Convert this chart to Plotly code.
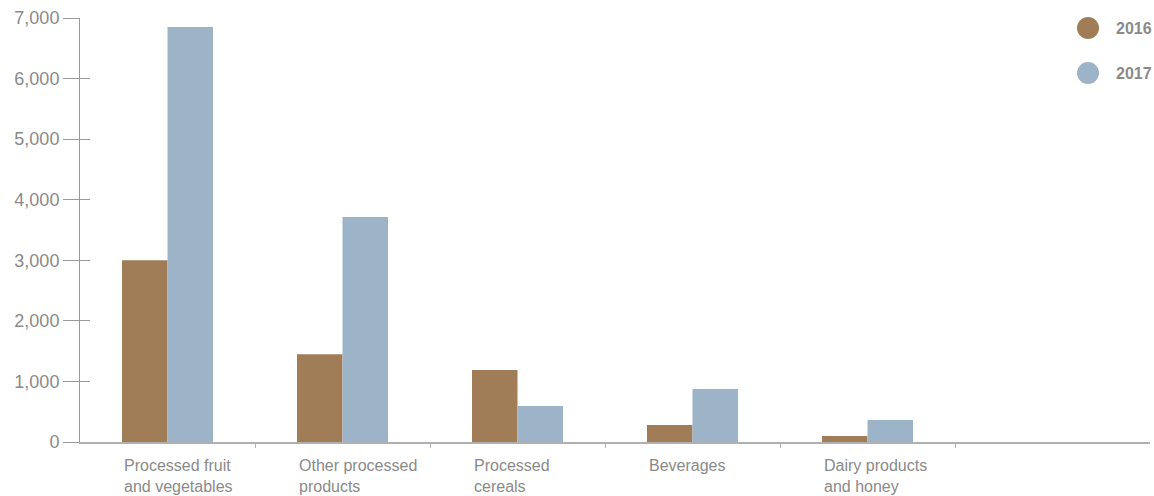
import plotly.graph_objects as go

categories = ["Processed fruit<br>and vegetables", "Other processed<br>products", "Processed<br>cereals",
              "Beverages", "Dairy products<br>and honey"]
series_names = ["2016", "2017"]
values_2016 = [3000, 1450, 1190, 280, 100]
values_2017 = [6850, 3715, 595, 875, 365]
y_ticks = [0, 1000, 2000, 3000, 4000, 5000, 6000, 7000]
y_tick_labels = ["0", "1,000", "2,000", "3,000", "4,000", "5,000", "6,000", "7,000"]
colors = ["#A07D56", "#9DB3C7"]

W, H = 1154, 496
L, R, T, B = 80, 4, 18, 54
pw, ph = W - L - R, H - T - B

x_idx = list(range(len(categories)))
fig = go.Figure()
for name, vals, col in zip(series_names, [values_2016, values_2017], colors):
    fig.add_trace(go.Bar(x=x_idx, y=vals, name=name, marker=dict(color=col, line=dict(width=0)),
                         showlegend=False))
fig.add_trace(go.Scatter(x=[0], y=[0], yaxis="y2", mode="markers", marker=dict(opacity=0),
                         showlegend=False, hoverinfo="skip"))

grey = "#8a8a8a"
fig.update_layout(
    width=W, height=H,
    margin=dict(l=L, r=R, t=T, b=B),
    paper_bgcolor="white", plot_bgcolor="white",
    barmode="group", bargap=0.48, bargroupgap=0,
    xaxis=dict(range=[-0.5, -0.5 + pw / 175.0], tickvals=[0.5, 1.5, 2.5, 3.5, 4.5],
               showticklabels=False, ticks="outside", ticklen=4, tickcolor="#b0b0b0",
               showline=True, linecolor="#b0b0b0", linewidth=1.5, showgrid=False, zeroline=False,
               automargin=False),
    yaxis=dict(range=[0, 7000], tickvals=y_ticks, showticklabels=False, ticks="inside", ticklen=10,
               tickcolor="#999999", showline=True, linecolor="#999999", linewidth=1,
               showgrid=False, zeroline=False, automargin=False),
    yaxis2=dict(range=[0, 7000], overlaying="y", side="left", tickvals=y_ticks, ticktext=y_tick_labels,
                ticks="outside", ticklen=16, tickcolor="#999999", showline=False, showgrid=False,
                zeroline=False, automargin=False,
                tickfont=dict(family="Liberation Sans, Arial", size=18, color=grey)),
)

for i, cat in enumerate(categories):
    fig.add_annotation(x=i - 0.262, y=0, xref="x", yref="paper", text=cat, showarrow=False,
                       xanchor="left", yanchor="top", align="left", yshift=-13,
                       font=dict(family="Liberation Sans, Arial", size=16, color=grey))

legend_px = [(1088, 28), (1088, 73)]
for (cx, cy), name, col in zip(legend_px, series_names, colors):
    px_x = (cx - L) / pw
    px_y = (H - B - cy) / ph
    fig.add_shape(type="circle", xref="paper", yref="paper", xsizemode="pixel", ysizemode="pixel",
                  xanchor=px_x, yanchor=px_y, x0=-11, x1=11, y0=-11, y1=11,
                  fillcolor=col, line=dict(width=0))
    fig.add_annotation(x=(1114 - L) / pw, y=px_y, xref="paper", yref="paper", text=name,
                       showarrow=False, xanchor="left", yanchor="middle",
                       font=dict(family="Liberation Sans, Arial", size=16, color=grey, weight="bold"))

fig.write_html("out.html", config={"displayModeBar": False},
               post_script="document.body.style.margin='0';document.body.style.overflow='hidden';")
